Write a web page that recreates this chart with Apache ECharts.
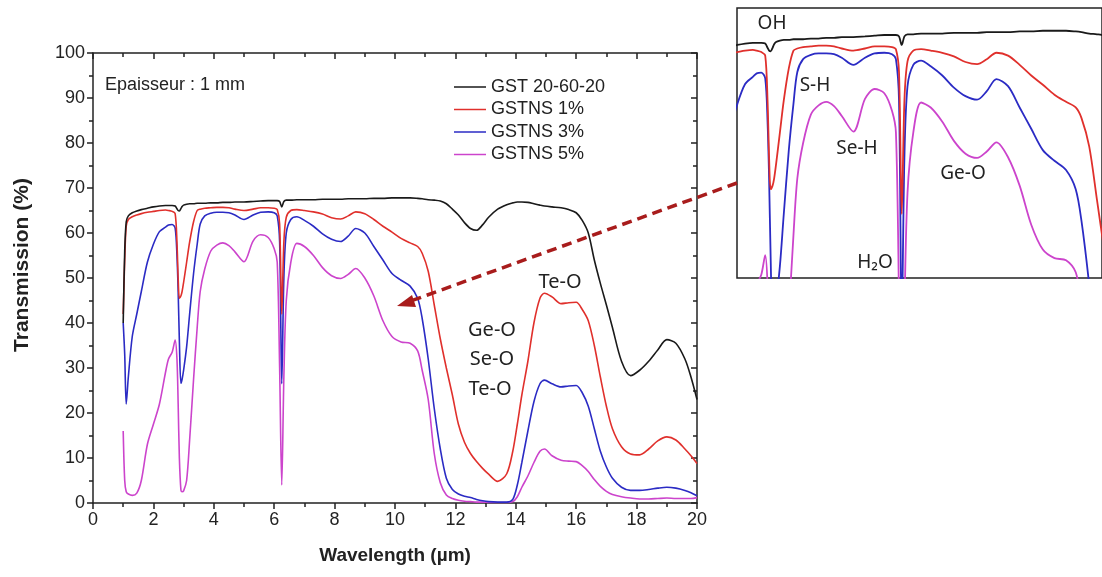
<!DOCTYPE html>
<html>
<head>
<meta charset="utf-8">
<script src="https://cdn.jsdelivr.net/npm/echarts@6/dist/echarts.min.js"></script>
<style>
html,body{margin:0;padding:0;background:#fff;}
#chart{width:1102px;height:577px;}
</style>
</head>
<body>
<div id="chart"></div>
<script>
// ---- data ----
const wavelengths = [
  1.0, 1.05, 1.1, 1.17, 1.3, 1.45, 1.6, 1.8, 2.0, 2.2, 2.4, 2.5,
  2.62, 2.72, 2.78, 2.82, 2.86, 2.91, 2.95, 3.0, 3.1, 3.2, 3.33, 3.45, 3.55, 3.7,
  3.9, 4.1, 4.3, 4.5, 4.7, 5.0, 5.3, 5.55, 5.8, 6.0, 6.1,
  6.18, 6.25, 6.32, 6.4, 6.55, 6.75, 7.0, 7.3, 7.6, 7.9,
  8.2, 8.45, 8.7, 9.0, 9.3, 9.6, 9.9, 10.2, 10.5, 10.75, 10.9, 11.1,
  11.3, 11.5, 11.7, 11.9, 12.1, 12.3, 12.5, 12.7, 12.9, 13.1, 13.4, 13.7, 13.9,
  14.05, 14.2, 14.4, 14.6, 14.8, 14.95, 15.2, 15.5, 15.75, 16.0,
  16.2, 16.4, 16.6, 16.8, 17.0, 17.2, 17.5, 17.8, 18.1, 18.4, 18.7, 19.0, 19.3, 19.6, 19.8, 20.0
];
const gst = [
  40, 56, 62.5, 63.8, 64.5, 64.9, 65.2, 65.5, 65.8, 66.0, 66.1, 66.1,
  66.1, 66.0, 65.4, 65.0, 64.9, 65.4, 65.9, 66.2, 66.4, 66.5, 66.5, 66.6, 66.6, 66.6,
  66.7, 66.7, 66.8, 66.8, 66.9, 66.9, 67.0, 67.1, 67.2, 67.2, 67.2,
  67.0, 65.8, 67.0, 67.3, 67.3, 67.4, 67.4, 67.4, 67.5, 67.5,
  67.5, 67.6, 67.6, 67.6, 67.7, 67.7, 67.8, 67.8, 67.8, 67.7, 67.6, 67.4,
  67.3, 67.1, 66.5, 65.3, 64.0, 62.3, 61.0, 60.6, 61.8, 63.5, 65.3, 66.3, 66.7,
  66.9, 66.9, 66.8, 66.5, 66.2, 66.0, 65.8, 65.6, 65.2, 64.5,
  62.8, 60.0, 54.0, 48.8, 44.0, 39.0, 31.5, 28.3, 29.5, 31.5, 34.0, 36.3, 35.5, 32.0, 28.0, 23.0
];
const gstns1 = [
  42, 54, 61.5, 63.0, 63.6, 64.0, 64.3, 64.6, 64.8, 65.0, 65.1, 65.0,
  64.8, 64.3, 58, 50, 45.5, 46, 47, 49, 53.5, 58, 62.5, 65, 65.3, 65.5,
  65.6, 65.7, 65.7, 65.6, 65.3, 65.0, 65.3, 65.6, 65.6, 65.5, 65.2,
  62, 42, 58, 63.5, 65.0, 65.2, 65.0, 64.7, 64.2, 63.4,
  63.1, 63.8, 64.7, 64.3, 63.0, 61.5, 60.2, 58.8, 57.8, 57.0, 55.5, 51.5,
  44, 36.5, 30, 24, 17.5, 13.5, 11, 9.2, 7.7, 6.4, 4.8, 6.5, 11.5,
  17.5, 24, 31.5, 40, 45.5, 46.6, 45.8, 44.3, 44.5, 44.6,
  43, 40.5, 35, 28, 21.5, 16.5, 12.5, 10.9, 10.7, 12, 13.8, 14.7, 14, 12, 10.5, 8.8
];
const gstns3 = [
  40, 33, 22, 28, 37, 42, 47, 53.5, 57.5, 60.3, 61.3, 61.8,
  61.9, 61.1, 55, 47, 36, 26.6, 27.5, 29.5, 34.7, 42, 51, 57.5, 62, 63.8,
  64.4, 64.6, 64.6, 64.5, 64.0, 63.0, 64.0, 64.6, 64.7, 64.5, 63.8,
  58, 26.5, 50, 60, 63, 63.6, 62.8, 61.5, 59.8, 58.6,
  58.1, 59.3, 61.0, 60.0, 57.0, 54.0, 51.0, 49.5, 48.2, 45.5, 41, 32,
  21, 12, 5.5, 3, 2, 1.5, 1.2, 0.8, 0.5, 0.3, 0.2, 0.2, 0.8,
  4, 9, 16, 22.5, 26.5, 27.3, 26.5, 25.8, 26, 26.1,
  24.5, 21.5, 16.5, 11.5, 8, 5.5, 3.5, 2.8, 2.8, 3, 3.3, 3.5, 3.3, 2.8, 2.3, 1.6
];
const gstns5 = [
  16, 5, 2.5, 2, 1.7, 2.2, 5, 13, 17.5, 22, 29, 32,
  33.5, 36.2, 32, 22, 10, 3, 2.5, 2.7, 5, 14, 27.5, 39, 47, 52,
  56, 57.3, 57.8, 57.2, 55.8, 53.6, 58.2, 59.6, 59, 56.5, 53.5,
  30, 4, 28, 45, 53.5, 57.7, 57, 55, 52.3, 50.5,
  49.9, 50.8, 52.1, 50, 46, 40.5, 37, 35.8, 35.5, 33.8, 29.5, 23,
  11, 4.5, 1.8, 1, 0.6, 0.4, 0.3, 0.2, 0.2, 0.1, 0.1, 0.1, 0.3,
  1.4, 3.5, 6, 9, 11.5, 12, 10.5, 9.5, 9.3, 9.2,
  8.3, 7, 5.2, 3.7, 2.6, 1.9, 1.4, 1.1, 0.9, 0.9, 1, 1.1, 1, 1, 1, 1.2
];
const seriesNames = ['GST 20-60-20', 'GSTNS 1%', 'GSTNS 3%', 'GSTNS 5%'];
const seriesColors = ['#1a1a1a', '#e0302c', '#2b2bc4', '#cc44cc'];
const seriesValues = [gst, gstns1, gstns3, gstns5];
const xTickLabels = ['0', '2', '4', '6', '8', '10', '12', '14', '16', '18', '20'];
const yTickLabels = ['0', '10', '20', '30', '40', '50', '60', '70', '80', '90', '100'];

// ---- chart ----
const chart = echarts.init(document.getElementById('chart'), null, {renderer: 'canvas'});
const AR = 'Liberation Sans';

function pairs(vals) { return wavelengths.map((w, i) => [w, vals[i]]); }

const mainSeries = seriesNames.map((n, k) => ({
  name: n, type: 'line', xAxisIndex: 0, yAxisIndex: 0,
  data: pairs(seriesValues[k]), symbol: 'none', smooth: 0.3,
  lineStyle: {color: seriesColors[k], width: 1.6}, itemStyle: {color: seriesColors[k]},
  z: 10 - k, animation: false
}));
const insetSeries = seriesNames.map((n, k) => ({
  name: n, type: 'line', xAxisIndex: 2, yAxisIndex: 2,
  data: pairs(seriesValues[k]), symbol: 'none', smooth: 0.3, clip: true,
  lineStyle: {color: seriesColors[k], width: 1.8}, itemStyle: {color: seriesColors[k]},
  z: 10 - k, animation: false
}));

const axisLine = {show: true, onZero: false, lineStyle: {color: '#222', width: 1.5}};

const option = {
  backgroundColor: '#fff',
  animation: false,
  grid: [
    {left: 93, top: 53, width: 604, height: 450, show: false},
    {left: 737, top: 8, width: 372, height: 270, show: true, borderColor: '#222', borderWidth: 1.5, backgroundColor: '#fff'}
  ],
  xAxis: [
    {type: 'value', gridIndex: 0, min: 0, max: 20, interval: 2, position: 'bottom',
      axisLine: axisLine,
      axisTick: {show: true, length: 6, inside: false, lineStyle: {color: '#222', width: 1.5}},
      minorTick: {show: true, splitNumber: 2, length: 4, lineStyle: {color: '#222', width: 1.5}},
      splitLine: {show: false},
      axisLabel: {fontFamily: AR, fontSize: 18, color: '#222', margin: 8,
        formatter: (v) => xTickLabels[Math.round(v / 2)]},
      name: 'Wavelength (µm)', nameLocation: 'middle', nameGap: 43,
      nameTextStyle: {fontFamily: AR, fontSize: 19, fontWeight: 'bold', color: '#222'}},
    {type: 'value', gridIndex: 0, min: 0, max: 20, interval: 2, position: 'top',
      axisLine: axisLine,
      axisTick: {show: true, length: 6, inside: true, lineStyle: {color: '#222', width: 1.5}},
      minorTick: {show: true, splitNumber: 2, length: 4, lineStyle: {color: '#222', width: 1.5}},
      splitLine: {show: false}, axisLabel: {show: false}},
    {type: 'value', gridIndex: 1, min: 1.99, max: 11.43, show: false}
  ],
  yAxis: [
    {type: 'value', gridIndex: 0, min: 0, max: 100, interval: 10, position: 'left',
      axisLine: axisLine,
      axisTick: {show: true, length: 6, inside: false, lineStyle: {color: '#222', width: 1.5}},
      minorTick: {show: true, splitNumber: 2, length: 4, lineStyle: {color: '#222', width: 1.5}},
      splitLine: {show: false},
      axisLabel: {fontFamily: AR, fontSize: 18, color: '#222', margin: 8,
        formatter: (v) => yTickLabels[Math.round(v / 10)]}},
    {type: 'value', gridIndex: 0, min: 0, max: 100, interval: 10, position: 'right',
      axisLine: axisLine,
      axisTick: {show: true, length: 6, inside: true, lineStyle: {color: '#222', width: 1.5}},
      minorTick: {show: true, splitNumber: 2, length: 4, lineStyle: {color: '#222', width: 1.5}},
      splitLine: {show: false}, axisLabel: {show: false}},
    {type: 'value', gridIndex: 1, min: 33, max: 71, show: false}
  ],
  legend: {
    show: true, orient: 'vertical', left: 449, top: 73,
    data: seriesNames,
    itemWidth: 32, itemHeight: 14, itemGap: 4.5,
    icon: 'path://M0,7 L32,7 L32,8.5 L0,8.5 Z',
    textStyle: {fontFamily: AR, fontSize: 18, color: '#222'},
    selectedMode: false
  },
  series: mainSeries.concat(insetSeries),
  graphic: [
    {type: 'text', x: 22, y: 265, rotation: Math.PI / 2, z: 50,
      style: {text: 'Transmission (%)', font: 'bold 21px "Liberation Sans"', fill: '#222', textAlign: 'center', textVerticalAlign: 'middle'}},
    {type: 'text', x: 105, y: 85, z: 50,
      style: {text: 'Epaisseur : 1 mm', font: '18px "Liberation Sans"', fill: '#222', textVerticalAlign: 'middle'}},
    {type: 'text', x: 560, y: 282, z: 50,
      style: {text: 'Te-O', font: '20px "Noto Sans"', fill: '#222', textAlign: 'center', textVerticalAlign: 'middle'}},
    {type: 'text', x: 492, y: 330, z: 50,
      style: {text: 'Ge-O', font: '20px "Noto Sans"', fill: '#222', textAlign: 'center', textVerticalAlign: 'middle'}},
    {type: 'text', x: 492, y: 359, z: 50,
      style: {text: 'Se-O', font: '20px "Noto Sans"', fill: '#222', textAlign: 'center', textVerticalAlign: 'middle'}},
    {type: 'text', x: 490, y: 389, z: 50,
      style: {text: 'Te-O', font: '20px "Noto Sans"', fill: '#222', textAlign: 'center', textVerticalAlign: 'middle'}},
    {type: 'text', x: 772, y: 24, z: 50,
      style: {text: 'OH', font: '19px "Noto Sans"', fill: '#222', textAlign: 'center', textVerticalAlign: 'middle'}},
    {type: 'text', x: 815, y: 86, z: 50,
      style: {text: 'S-H', font: '19px "Noto Sans"', fill: '#222', textAlign: 'center', textVerticalAlign: 'middle'}},
    {type: 'text', x: 857, y: 149, z: 50,
      style: {text: 'Se-H', font: '19px "Noto Sans"', fill: '#222', textAlign: 'center', textVerticalAlign: 'middle'}},
    {type: 'text', x: 875, y: 263, z: 50,
      style: {text: 'H₂O', font: '19px "Noto Sans"', fill: '#222', textAlign: 'center', textVerticalAlign: 'middle'}},
    {type: 'text', x: 963, y: 174, z: 50,
      style: {text: 'Ge-O', font: '19px "Noto Sans"', fill: '#222', textAlign: 'center', textVerticalAlign: 'middle'}},
    {type: 'line', z: 60,
      shape: {x1: 737, y1: 183, x2: 408, y2: 302},
      style: {stroke: '#a81c1c', lineWidth: 3.5, lineDash: [10, 6]}},
    {type: 'polygon', z: 60,
      shape: {points: [[397, 306], [412, 295], [416, 307]]},
      style: {fill: '#a81c1c'}}
  ]
};
chart.setOption(option);
</script>
</body>
</html>
